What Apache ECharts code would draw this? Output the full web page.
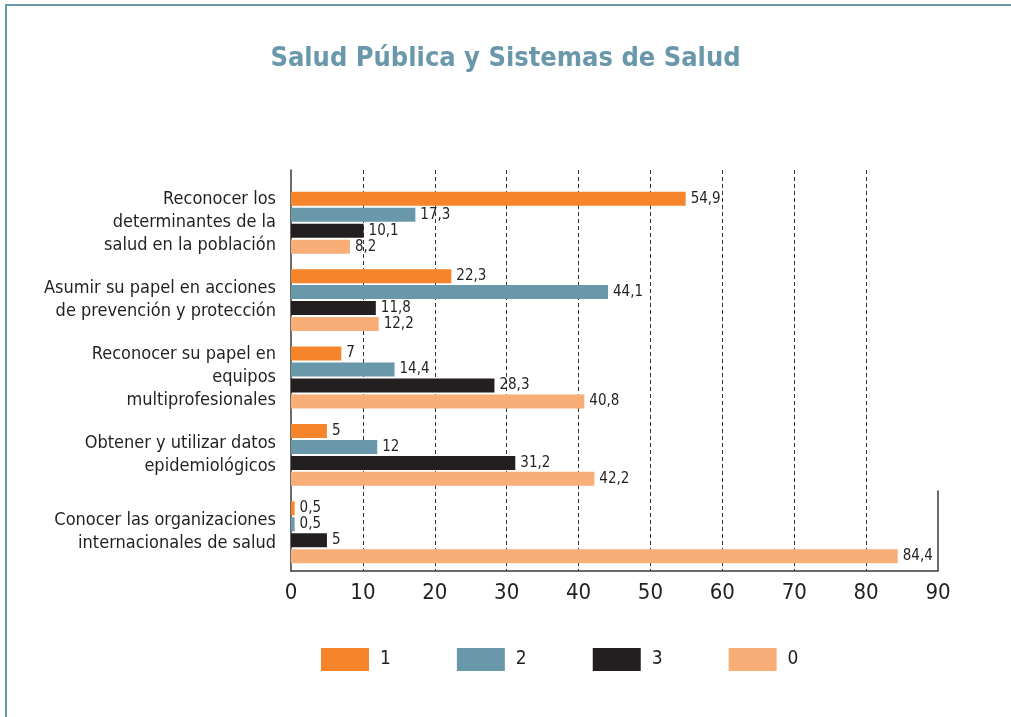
<!DOCTYPE html>
<html>
<head>
<meta charset="utf-8">
<script src="https://cdn.jsdelivr.net/npm/echarts@6/dist/echarts.min.js"></script>
<style>
  html, body { margin: 0; padding: 0; background: #fff; }
  #chart { width: 1011px; height: 717px; }
</style>
</head>
<body>
<div id="chart"></div>
<script>
const categories = [
  "Reconocer los\ndeterminantes de la\nsalud en la población",
  "Asumir su papel en acciones\nde prevención y protección",
  "Reconocer su papel en\nequipos\nmultiprofesionales",
  "Obtener y utilizar datos\nepidemiológicos",
  "Conocer las organizaciones\ninternacionales de salud"
];
const seriesNames = ["1", "2", "3", "0"];
const values1 = [54.9, 22.3, 7, 5, 0.5];
const values2 = [17.3, 44.1, 14.4, 12, 0.5];
const values3 = [10.1, 11.8, 28.3, 31.2, 5];
const values0 = [8.2, 12.2, 40.8, 42.2, 84.4];
const xTicks = { min: 0, max: 90, interval: 10 };

const colors = ["#f5842a", "#6a98ab", "#231f20", "#f9ae78"];
const font = "'Liberation Sans Narrow', 'DejaVu Sans Condensed', sans-serif";
const textColor = "#231f20";

const chart = echarts.init(document.getElementById("chart"));

// one bar series per answer value
const makeSeries = (name, data, color) => ({
  name: name,
  type: "bar",
  xAxisIndex: 1,
  yAxisIndex: 1,
  barWidth: 14,
  barGap: "14%",
  itemStyle: { color: color },
  label: {
    show: true,
    position: "right",
    distance: 5,
    color: textColor,
    fontFamily: font,
    fontSize: 15,
    formatter: (p) => String(p.value).replace(".", ",")
  },
  data: data
});

const option = {
  animation: false,
  title: {
    text: "Salud Pública y Sistemas de Salud",
    left: "center",
    top: 40,
    textStyle: {
      color: "#6a98ab",
      fontFamily: font,
      fontWeight: "bold",
      fontSize: 27
    }
  },
  legend: {
    data: seriesNames,
    left: 316,
    top: 643,
    itemWidth: 48,
    itemHeight: 23,
    itemGap: 66,
    icon: "rect",
    textStyle: { color: textColor, fontFamily: font, fontSize: 19, padding: [0, 0, 0, 6] }
  },
  grid: [
    { left: 291, right: 73, top: 170, bottom: 146 },
    { left: 291, right: 73, top: 184, bottom: 146 }
  ],
  xAxis: [
    {
      gridIndex: 0,
      type: "value",
      min: xTicks.min,
      max: xTicks.max,
      interval: xTicks.interval,
      axisLine: { show: true, lineStyle: { color: "#3a3a3a", width: 1.5 } },
      axisTick: { show: false },
      axisLabel: { color: textColor, fontFamily: font, fontSize: 22, margin: 11 },
      splitLine: {
        show: true,
        showMinLine: false,
        showMaxLine: false,
        lineStyle: { color: "#333", type: [4, 3], width: 1 }
      }
    },
    {
      gridIndex: 1,
      type: "value",
      min: xTicks.min,
      max: xTicks.max,
      show: false
    }
  ],
  yAxis: [
    {
      gridIndex: 0,
      type: "category",
      data: [""],
      axisLine: { show: true, lineStyle: { color: "#3a3a3a", width: 1.5 } },
      axisTick: { show: false },
      axisLabel: { show: false }
    },
    {
      gridIndex: 1,
      type: "category",
      inverse: true,
      data: categories,
      axisLine: { show: false },
      axisTick: { show: false },
      axisLabel: {
        color: textColor,
        fontFamily: font,
        fontSize: 18,
        lineHeight: 23,
        align: "right",
        margin: 15
      }
    }
  ],
  series: [
    makeSeries(seriesNames[0], values1, colors[0]),
    makeSeries(seriesNames[1], values2, colors[1]),
    makeSeries(seriesNames[2], values3, colors[2]),
    makeSeries(seriesNames[3], values0, colors[3])
  ]
};

chart.setOption(option);

// frame lines and the short solid line at 90 beside the last group
const x90 = chart.convertToPixel({ xAxisIndex: 1 }, xTicks.max);
const yLast = chart.convertToPixel({ yAxisIndex: 1 }, categories.length - 1);
const yPrev = chart.convertToPixel({ yAxisIndex: 1 }, categories.length - 2);
const band = yLast - yPrev;
chart.setOption({
  graphic: [
    { type: "line", shape: { x1: 6, y1: 5, x2: 6, y2: 717 }, style: { stroke: "#6a98ab", lineWidth: 2 } },
    { type: "line", shape: { x1: 5, y1: 5, x2: 1011, y2: 5 }, style: { stroke: "#6a98ab", lineWidth: 2 } },
    { type: "line", shape: { x1: x90, y1: yLast - band / 2 - 3, x2: x90, y2: yLast + band / 2 }, style: { stroke: "#3a3a3a", lineWidth: 1.5 } }
  ]
});
</script>
</body>
</html>
